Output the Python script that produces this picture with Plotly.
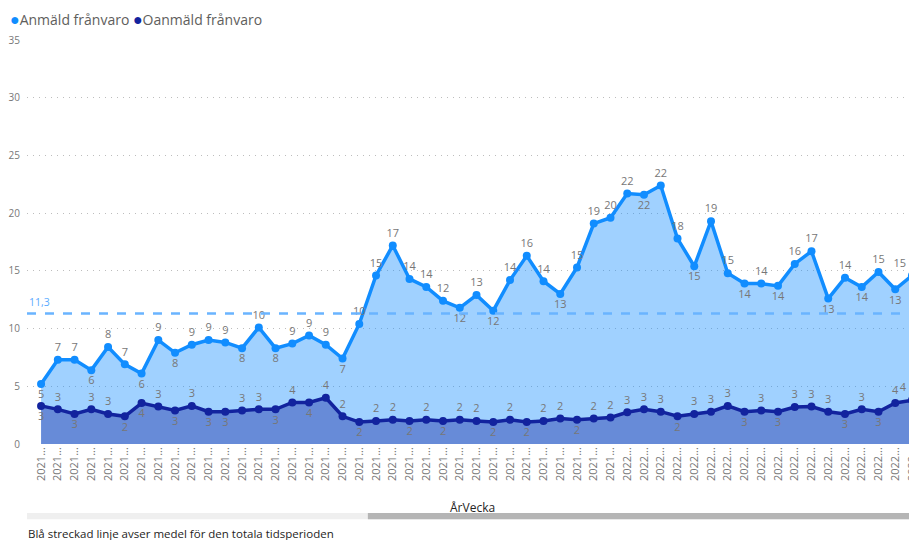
import plotly.graph_objects as go

# ---------------- data ----------------
weeks_2021 = [f"2021-{w:02d}" for w in range(18, 53)]
weeks_2022 = [f"2022-{w:02d}" for w in range(1, 19)]
categories = weeks_2021 + weeks_2022
tick_labels = [c[:4] + "..." for c in categories]

anmald = [5.2, 7.3, 7.3, 6.4, 8.4, 6.9, 6.1, 9.0, 7.9, 8.6,
          9.0, 8.8, 8.3, 10.1, 8.3, 8.7, 9.4, 8.6, 7.4, 10.4,
          14.6, 17.2, 14.3, 13.6, 12.4, 11.8, 12.9, 11.55, 14.2, 16.3,
          14.1, 13.0, 15.3, 19.1, 19.6, 21.7, 21.6, 22.4, 17.8, 15.4,
          19.3, 14.8, 13.9, 13.9, 13.7, 15.6, 16.7, 12.6, 14.4, 13.6,
          14.9, 13.4, 14.6]

oanmald = [3.3, 3.0, 2.6, 3.0, 2.6, 2.4, 3.55, 3.25, 2.9, 3.3,
           2.8, 2.8, 2.9, 3.0, 3.0, 3.6, 3.6, 4.0, 2.4, 1.9,
           2.0, 2.1, 2.0, 2.1, 2.0, 2.1, 2.0, 1.9, 2.1, 1.9,
           2.0, 2.2, 2.1, 2.2, 2.3, 2.75, 3.0, 2.8, 2.4, 2.6,
           2.8, 3.3, 2.8, 2.9, 2.8, 3.2, 3.25, 2.8, 2.6, 3.0,
           2.8, 3.55, 3.8]

mean_value = 11.3
mean_label = "11,3"

series_names = ["Anmäld frånvaro", "Oanmäld frånvaro"]
x_title = "ÅrVecka"
caption = "Blå streckad linje avser medel för den totala tidsperioden"

# ---------------- label placement (style) ----------------
pos_a = "BTTBTTBTBTTTBTBTTTBTTTTTTBTBTTTBTTTTBTTBTTBTBTTBTBTBL"
pos_o = "BTBTTBBTBTBBTTBTBTTBTTBTBTTBTBTTBTTTTTBTTTBTBTTTBTBTL"
def positions(s):
    m = {"T": "top center", "B": "bottom center", "L": "top left"}
    return [m[ch] for ch in s]

FONT = "Segoe UI, Open Sans, sans-serif"
C_A = "#118DFF"
C_O = "#12239E"
LABEL_FONT = dict(family=FONT, size=11, color="#777777")

fig = go.Figure()

fig.add_trace(go.Scatter(
    x=categories, y=anmald, name=series_names[0],
    mode="lines+markers+text",
    line=dict(color=C_A, width=3.5),
    marker=dict(color=C_A, size=8),
    fill="tozeroy", fillcolor="rgba(17,141,255,0.4)",
    texttemplate="%{y:.0f}", textposition=positions(pos_a),
    textfont=LABEL_FONT, cliponaxis=False, showlegend=False,
))
fig.add_trace(go.Scatter(
    x=categories, y=oanmald, name=series_names[1],
    mode="lines+markers+text",
    line=dict(color=C_O, width=3.5),
    marker=dict(color=C_O, size=8),
    fill="tozeroy", fillcolor="rgba(18,35,158,0.4)",
    texttemplate="%{y:.0f}", textposition=positions(pos_o),
    textfont=LABEL_FONT, cliponaxis=False, showlegend=False,
))

# mean line
fig.add_shape(type="line", xref="paper", x0=0, x1=1, yref="y",
              y0=mean_value, y1=mean_value, layer="above",
              line=dict(color="#6AB4FF", width=2.5, dash="dash"))
fig.add_annotation(xref="paper", x=0, yref="y", y=mean_value,
                   text=mean_label, showarrow=False, xanchor="left",
                   yanchor="bottom", yshift=3, xshift=0,
                   font=dict(family=FONT, size=10.5, color="#5AABFF"))

# legend as text
fig.add_annotation(
    xref="paper", yref="paper", x=-0.021, y=1.052, xanchor="left", yanchor="middle",
    showarrow=False,
    text=(f"<span style='color:{C_A};font-size:16px'>●</span>{series_names[0]} "
          f"<span style='color:{C_O};font-size:16px'>●</span>{series_names[1]}"),
    font=dict(family=FONT, size=14, color="#605E5C"),
)

# x title
fig.add_annotation(xref="paper", yref="paper", x=0.5, y=-0.156,
                   text=x_title, showarrow=False, xanchor="center", yanchor="middle",
                   font=dict(family=FONT, size=12, color="#252423"))

# scrollbar
fig.add_shape(type="rect", xref="paper", yref="paper", x0=0, x1=1,
              y0=-0.186, y1=-0.171, fillcolor="#EFEFEF", line=dict(width=0), layer="above")
fig.add_shape(type="rect", xref="paper", yref="paper", x0=0.383, x1=1,
              y0=-0.186, y1=-0.171, fillcolor="#B5B5B5", line=dict(width=0), layer="above")

# caption
fig.add_annotation(xref="paper", yref="paper", x=-0.001, y=-0.222,
                   text=caption, showarrow=False, xanchor="left", yanchor="middle",
                   font=dict(family=FONT, size=11.5, color="#252423"))

# the page body has an 8px margin, so the figure is 8px smaller on each side
fig.update_layout(
    width=909, height=532,
    margin=dict(l=19, r=0, t=32, b=96),
    plot_bgcolor="white", paper_bgcolor="white",
    font=dict(family=FONT),
    showlegend=False,
    xaxis=dict(
        type="category", range=[-0.84, 52.3], automargin=False,
        tickmode="array", tickvals=categories, ticktext=tick_labels,
        tickangle=-90, tickfont=dict(family=FONT, size=11, color="#777777"),
        showgrid=False, zeroline=False, showline=False, ticks="",
    ),
    yaxis=dict(
        range=[0, 35], tickvals=[0, 5, 10, 15, 20, 25, 30, 35], automargin=False,
        showgrid=True, gridcolor="#BDBDBD", griddash="1px,5px", gridwidth=1,
        zeroline=False, showline=False, ticks="",
        tickfont=dict(family=FONT, size=10, color="#777777"),
        ticklabelstandoff=6,
    ),
)

fig.write_html("out.html")
